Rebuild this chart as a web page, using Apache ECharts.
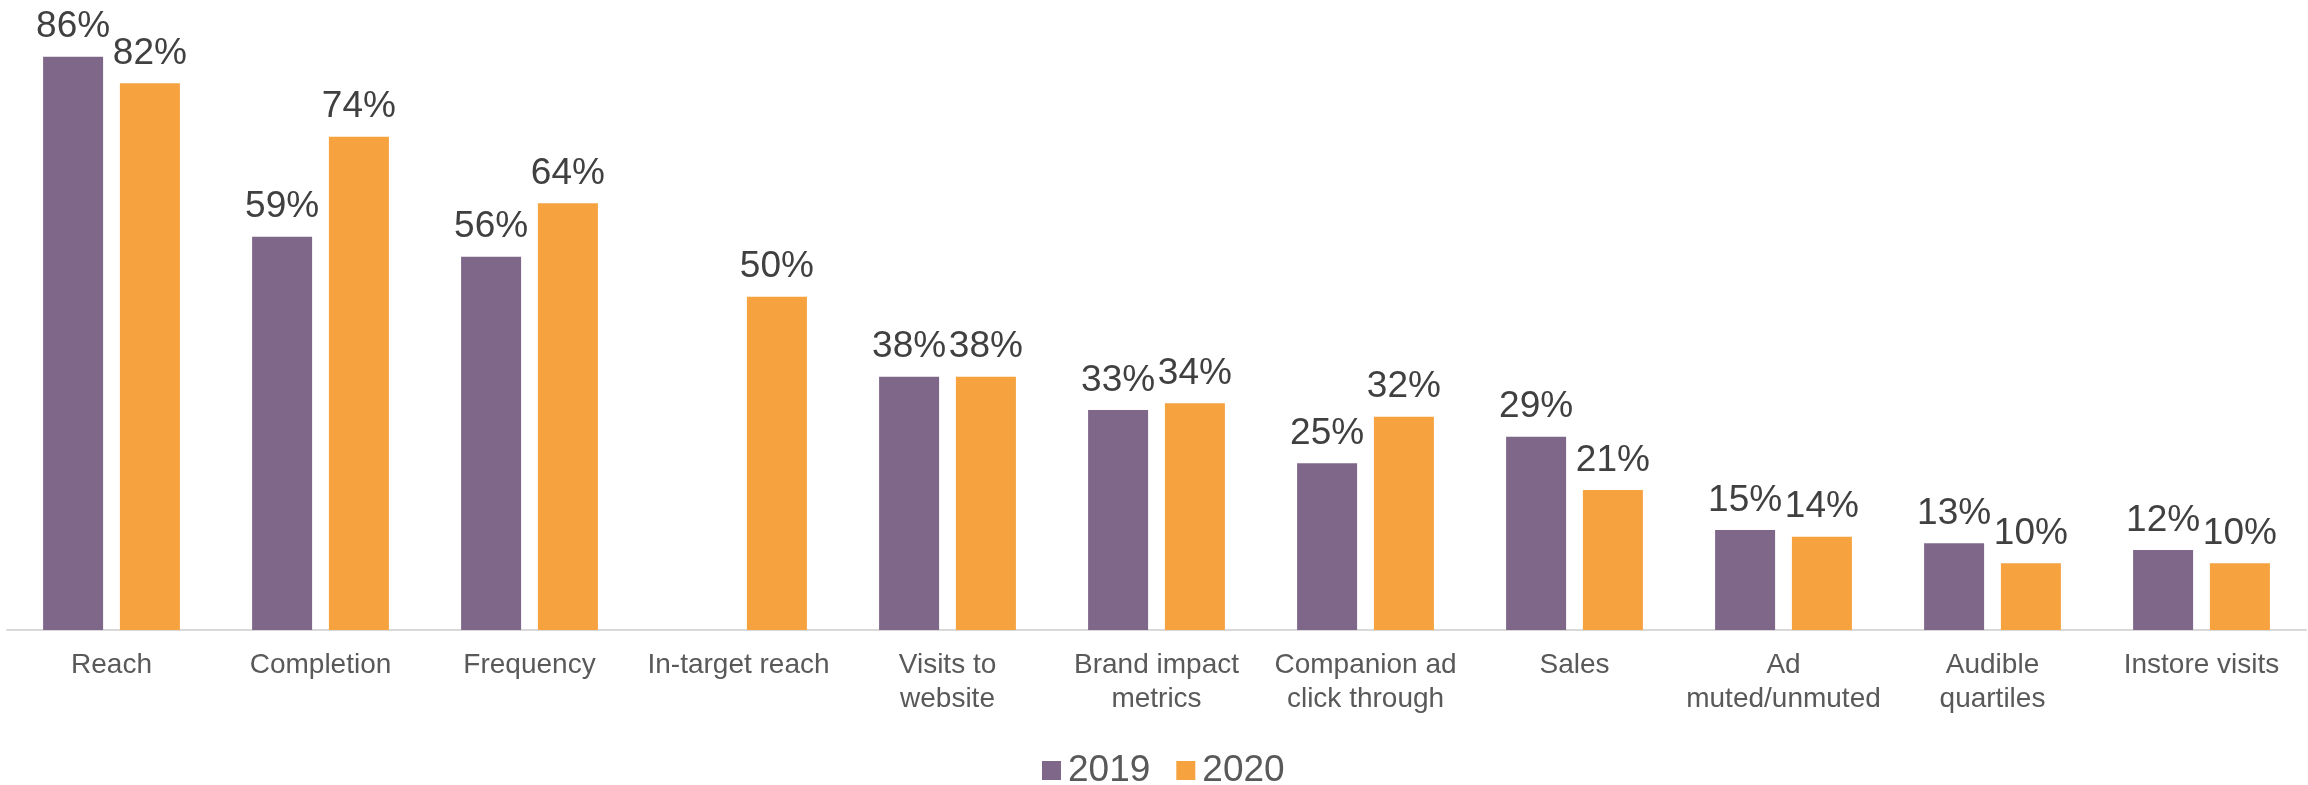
<!DOCTYPE html>
<html>
<head>
<meta charset="utf-8">
<script src="https://cdn.jsdelivr.net/npm/echarts@6/dist/echarts.min.js"></script>
<style>
  html, body { margin: 0; padding: 0; background: #ffffff; }
  #chart { width: 2308px; height: 785px; }
</style>
</head>
<body>
<div id="chart"></div>
<script>
// Measurement types tracked, one group of bars per type
const categories = [
  'Reach', 'Completion', 'Frequency', 'In-target reach', 'Visits to\nwebsite',
  'Brand impact\nmetrics', 'Companion ad\nclick through', 'Sales',
  'Ad\nmuted/unmuted', 'Audible\nquartiles', 'Instore visits'
];
// Share of respondents, percent (no 2019 figure for in-target reach)
const values2019 = [86, 59, 56, null, 38, 33, 25, 29, 15, 13, 12];
const values2020 = [82, 74, 64, 50, 38, 34, 32, 21, 14, 10, 10];
const seriesNames = ['2019', '2020'];

const FONT = '"Liberation Sans", Arial, Helvetica, sans-serif';
const colors = ['#7F6789', '#F5A23F'];

const chart = echarts.init(document.getElementById('chart'), null, { renderer: 'canvas' });

const valueLabel = {
  show: true,
  position: 'top',
  distance: 11,
  formatter: p => (p.value == null ? '' : p.value + '%'),
  fontFamily: FONT,
  fontSize: 37,
  color: '#404040'
};

chart.setOption({
  animation: false,
  backgroundColor: '#ffffff',
  color: colors,
  grid: { left: 7, right: 2, top: 30, bottom: 155, containLabel: false },
  legend: {
    data: seriesNames,
    left: 1037,
    top: 747,
    icon: 'rect',
    itemWidth: 19,
    itemHeight: 19,
    itemGap: 26,
    textStyle: { fontFamily: FONT, fontSize: 37, color: '#595959', padding: [0, 0, 0, 2] }
  },
  xAxis: {
    type: 'category',
    data: categories,
    axisTick: { show: false },
    axisLine: { show: true, lineStyle: { color: '#D9D9D9', width: 2 } },
    axisLabel: {
      interval: 0,
      margin: 18,
      fontFamily: FONT,
      fontSize: 28,
      lineHeight: 34,
      color: '#595959'
    }
  },
  yAxis: {
    type: 'value',
    min: 0,
    max: 90,
    show: false,
    splitLine: { show: false }
  },
  series: [
    {
      name: seriesNames[0],
      type: 'bar',
      data: values2019,
      barWidth: 60,
      barGap: '28%',
      itemStyle: { color: colors[0] },
      label: valueLabel
    },
    {
      name: seriesNames[1],
      type: 'bar',
      data: values2020,
      barWidth: 60,
      barGap: '28%',
      itemStyle: { color: colors[1] },
      label: valueLabel
    }
  ]
});
</script>
</body>
</html>
